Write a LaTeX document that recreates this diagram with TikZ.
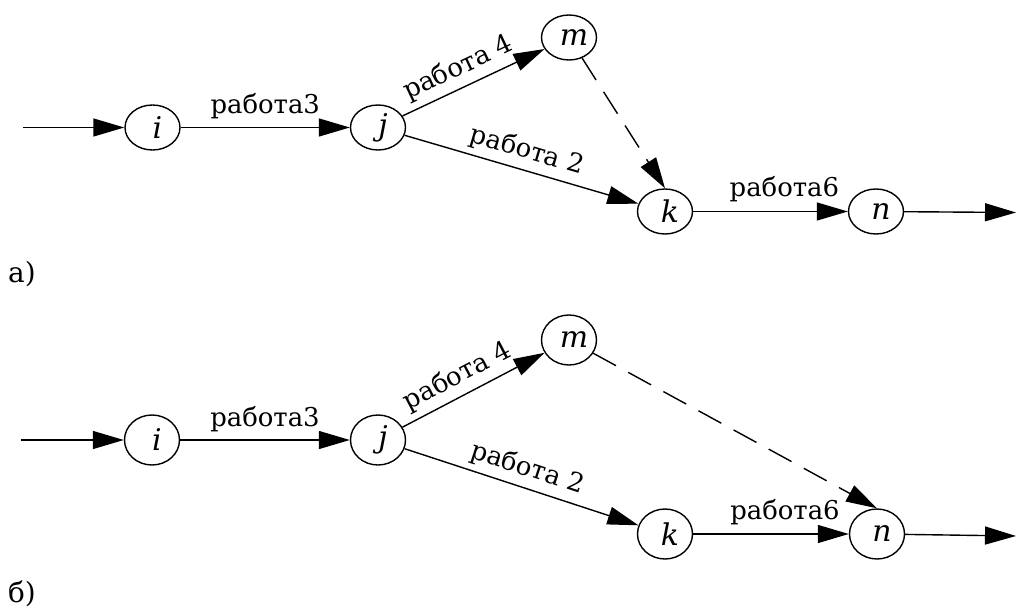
\documentclass[tikz,border=0pt]{standalone}
\usepackage{fontspec}
\setmainfont{DejaVu Serif}
\newfontfamily\tms{DejaVu Serif}
\usetikzlibrary{arrows.meta,shapes.geometric}
\tikzset{
  ev/.style={draw, ellipse, line width=1.4bp, minimum width=55bp, minimum height=45bp,
    inner sep=0pt, font=\tms\fontsize{30}{34}\selectfont\itshape},
  evb/.style={ev, minimum height=50bp},
  arr/.style={line width=1.4bp, -{Triangle[length=31bp,width=18bp]}},
  dsh/.style={arr, dash pattern=on 26bp off 14bp},
  lbl/.style={font=\tms\fontsize{26}{30}\selectfont, inner sep=0pt},
  tag/.style={font=\tms\fontsize{28}{32}\selectfont, anchor=base west, inner sep=0pt},
}
\newcommand{\nl}[1]{\hspace*{10bp}#1}
\begin{document}
\begin{tikzpicture}[x=1bp,y=-1bp]
\useasboundingbox (0,0) rectangle (1018,614);
% ---- a) ----
\node[ev] (ia) at (152.5,127.5) {\nl{i}};
\node[ev] (ja) at (378,127.5) {\nl{j}};
\node[ev] (ma) at (569,37.5) {\nl{m}};
\node[ev] (ka) at (665,211.5) {\nl{k}};
\node[ev] (na) at (876,211.5) {\nl{n}};
\coordinate (ina) at (23,127.5);
\coordinate (outa) at (1016,212.5);
\draw[arr] (ina) -- (ia);
\draw[arr] (ia) -- node[lbl, anchor=base, yshift=14bp] {работа3} (ja);
\draw[arr] (ja) -- node[lbl, sloped, pos=0.45, above=6bp] {работа 4} (ma);
\draw[arr] (ja) -- node[lbl, sloped, pos=0.5, above=6bp] {работа 2} (ka);
\draw[dsh] (ma) -- (ka.north);
\draw[arr] (ka) -- node[lbl, pos=0.59, anchor=base, yshift=15bp] {работа6} (na);
\draw[arr] (na) -- (outa);
\node[tag] (ta) at (8,283) {а)};
% ---- b) ----
\node[evb] (ib) at (152,440) {\nl{i}};
\node[evb] (jb) at (378,440) {\nl{j}};
\node[evb] (mb) at (569,340) {\nl{m}};
\node[evb] (kb) at (665,534) {\nl{k}};
\node[evb] (nb) at (877,534) {\nl{n}};
\coordinate (inb) at (21,440);
\coordinate (outb) at (1016,536);
\draw[arr] (inb) -- (ib);
\draw[arr] (ib) -- node[lbl, anchor=base, yshift=14bp] {работа3} (jb);
\draw[arr] (jb) -- node[lbl, sloped, pos=0.45, above=6bp] {работа 4} (mb);
\draw[arr] (jb) -- node[lbl, sloped, pos=0.5, above=6bp] {работа 2} (kb);
\draw[dsh] (mb) -- (nb.north);
\draw[arr] (kb) -- node[lbl, pos=0.59, anchor=base, yshift=15bp] {работа6} (nb);
\draw[arr] (nb) -- (outb);
\node[tag] (tb) at (8,602) {б)};
\end{tikzpicture}
\end{document}
